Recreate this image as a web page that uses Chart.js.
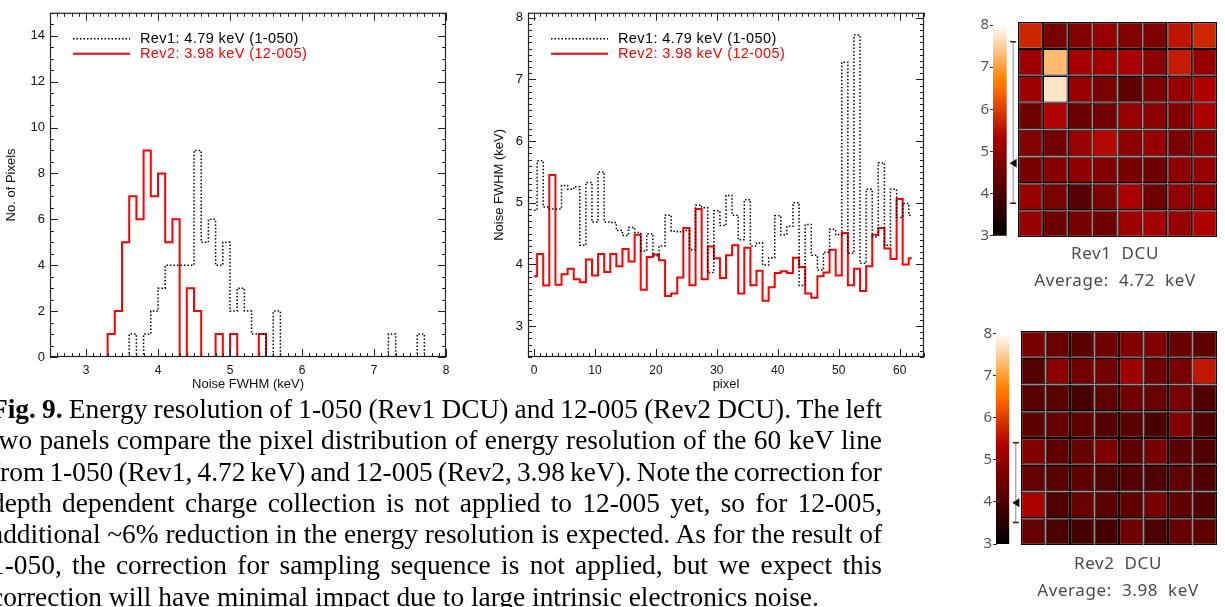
<!DOCTYPE html>
<html>
<head>
<meta charset="utf-8">
<script src="https://cdn.jsdelivr.net/npm/chart.js@4.4.1/dist/chart.umd.min.js"></script>
<style>
  body { margin: 0; background: #fff; }
  #page { position: relative; width: 1225px; height: 607px; overflow: hidden; }
  canvas { position: absolute; }
  .dcu { position: absolute; width: 220px; height: 22px; line-height: 22px; text-align: center;
         font-family: "Noto Sans", sans-serif; font-size: 17px; color: #4a4a4a; white-space: pre; letter-spacing: 0.6px; }
  #caption { position: absolute; left: -9px; top: 394px; width: 891px;
             font-family: "Liberation Serif", "Times New Roman", serif; font-size: 27.4px; color: #000; }
  #caption div { height: 31.3px; line-height: 31.3px; text-align: justify; text-align-last: justify; word-spacing: -4px; }
  #caption div.last { text-align-last: left; word-spacing: 0; }
</style>
</head>
<body>
<div id="page">
  <canvas id="hist" width="470" height="396" style="left:0;top:0"></canvas>
  <canvas id="pix" width="475" height="396" style="left:475px;top:0"></canvas>
  <canvas id="cb1" width="60" height="232" style="left:960px;top:15px"></canvas>
  <canvas id="map1" width="199" height="215" style="left:1018px;top:22px"></canvas>
  <canvas id="cb2" width="60" height="232" style="left:963px;top:323px"></canvas>
  <canvas id="map2" width="196" height="214" style="left:1021px;top:331px"></canvas>
  <div class="dcu" style="left:1005px;top:242px">Rev1  DCU</div>
  <div class="dcu" style="left:1005px;top:269px">Average:  4.72  keV</div>
  <div class="dcu" style="left:1008px;top:552px">Rev2  DCU</div>
  <div class="dcu" style="left:1008px;top:579px">Average:  3.98  keV</div>
  <div id="caption">
    <div><b>Fig. 9.</b> Energy resolution of 1-050 (Rev1 DCU) and 12-005 (Rev2 DCU). The left</div>
    <div>two panels compare the pixel distribution of energy resolution of the 60 keV line</div>
    <div>from 1-050 (Rev1, 4.72 keV) and 12-005 (Rev2, 3.98 keV). Note the correction for</div>
    <div>depth dependent charge collection is not applied to 12-005 yet, so for 12-005,</div>
    <div>additional ~6% reduction in the energy resolution is expected. As for the result of</div>
    <div>1-050, the correction for sampling sequence is not applied, but we expect this</div>
    <div class="last">correction will have minimal impact due to large intrinsic electronics noise.</div>
  </div>
</div>
<script>
// histogram of noise FWHM, 0.1 keV bins
const binWidth = 0.1;
const rev1BinStart = 3.5;
const rev1Counts = [0, 1, 0, 1, 2, 3, 4, 4, 4, 4, 9, 5, 6, 4, 5, 2, 3, 2, 1, 1, 0, 2,
  0, 0, 0, 0, 0, 0, 0, 0, 0, 0, 0, 0, 0, 0, 0, 1, 0, 0, 0, 1, 0];
const rev2BinStart = 3.2;
const rev2Counts = [0, 1, 2, 5, 7, 6, 9, 7, 8, 5, 6, 0, 3, 2, 0, 0, 1, 0, 1, 0, 0, 0, 1, 0];

// noise FWHM per pixel (keV)
const rev1Fwhm = [4.88, 5.68, 4.93, 4.90, 4.90, 5.28, 5.22, 5.26, 4.31, 5.33,
  4.69, 5.50, 4.69, 4.68, 4.55, 4.47, 4.60, 4.52, 4.22, 4.50,
  4.14, 4.30, 4.80, 4.54, 4.53, 4.55, 4.24, 4.96, 4.92, 3.87,
  4.87, 4.63, 5.12, 4.80, 4.40, 5.05, 4.30, 4.35, 3.99, 4.11,
  4.79, 4.48, 4.62, 5.00, 3.66, 4.65, 4.15, 3.91, 4.20, 4.57,
  4.48, 7.28, 4.18, 7.72, 4.02, 5.22, 4.45, 5.65, 4.31, 5.22,
  4.76, 4.99, 4.80];
const rev2Fwhm = [3.81, 4.17, 3.66, 5.45, 3.67, 3.84, 3.93, 3.76, 3.71, 4.08,
  3.82, 4.17, 3.88, 4.17, 3.97, 4.25, 4.05, 4.48, 3.59, 4.12,
  4.16, 4.07, 3.49, 3.53, 3.79, 4.59, 3.665, 4.90, 3.76, 4.29,
  4.10, 3.78, 4.15, 4.31, 3.53, 4.27, 3.665, 3.90, 3.41, 3.63,
  3.86, 3.89, 3.86, 4.11, 3.96, 3.53, 3.46, 3.81, 3.87, 4.24,
  3.82, 4.51, 3.665, 3.93, 3.57, 3.97, 4.48, 4.59, 4.26, 4.09,
  5.06, 4.00, 4.10];

const rev1Label = "Rev1: 4.79 keV (1-050)";
const rev2Label = "Rev2: 3.98 keV (12-005)";

// 8x8 DCU maps, top row first (keV)
const mapCols = ["0", "1", "2", "3", "4", "5", "6", "7"];
const rev1Map = [
  [5.75, 4.62, 4.76, 5.03, 4.76, 4.69, 5.57, 5.78],
  [5.17, 7.28, 5.23, 5.23, 5.30, 4.89, 5.64, 5.03],
  [5.17, 7.72, 5.03, 4.62, 4.29, 4.69, 5.03, 5.37],
  [4.49, 5.37, 4.42, 4.56, 5.03, 4.89, 4.76, 5.30],
  [4.76, 4.56, 5.10, 5.44, 4.89, 5.03, 4.69, 4.96],
  [4.62, 4.83, 4.96, 4.76, 4.62, 4.49, 4.89, 5.03],
  [5.03, 4.62, 4.15, 4.69, 5.30, 4.49, 4.96, 5.03],
  [5.03, 4.49, 4.62, 4.49, 5.17, 5.23, 5.03, 5.37]
];
const rev2Map = [
  [4.62, 4.42, 4.22, 4.56, 4.76, 4.76, 4.42, 4.29],
  [4.15, 4.89, 4.56, 4.56, 5.17, 4.49, 4.62, 5.60],
  [4.22, 4.22, 3.95, 4.29, 4.56, 4.42, 4.62, 4.08],
  [4.29, 4.35, 4.29, 4.15, 4.22, 4.01, 4.76, 4.08],
  [4.76, 4.29, 4.35, 4.69, 4.29, 4.62, 4.22, 4.08],
  [4.35, 4.22, 4.29, 4.08, 4.15, 4.08, 4.29, 4.08],
  [5.30, 4.08, 4.42, 4.22, 4.29, 4.62, 4.29, 4.08],
  [4.35, 4.01, 3.95, 3.95, 4.49, 4.01, 4.35, 4.29]
];
// average and range marks on the colour bars
const rev1Avg = 4.72, rev1Range = [3.77, 7.60];
const rev2Avg = 3.98, rev2Range = [3.51, 5.40];
const cbMin = 3, cbMax = 8;

// IDL "red temperature" look
function heatColor(v) {
  const t = Math.max(0, Math.min(1, (v - cbMin) / (cbMax - cbMin))) * 255;
  const r = Math.min(255, t * 255 / 176);
  const g = Math.max(0, Math.min(255, (t - 120) * 255 / 135));
  const b = Math.max(0, Math.min(255, (t - 190) * 255 / 65));
  return `rgb(${Math.round(r)},${Math.round(g)},${Math.round(b)})`;
}

const tickFontX = { family: "Liberation Sans", size: 12 };
const tickFontY = { family: "Liberation Sans", size: 13 };
const titleFont = { family: "Liberation Sans", size: 13 };

// box with IDL style ticks on all four sides
const frameTicks = {
  id: "frameTicks",
  afterDatasetsDraw(chart, args, o) {
    const { ctx, chartArea: a } = chart;
    ctx.save();
    ctx.strokeStyle = "#222";
    ctx.lineWidth = 1.2;
    ctx.strokeRect(a.left + 0.5, a.top + 0.5, a.width - 1, a.height - 1);
    ctx.lineWidth = 1;
    ctx.beginPath();
    const marks = (scale, step, len) => {
      const k0 = Math.ceil(scale.min / step - 1e-6);
      for (let k = k0; k * step <= scale.max + 1e-6; k++) {
        const p = Math.round(scale.getPixelForValue(k * step)) + 0.5;
        if (scale.isHorizontal()) {
          ctx.moveTo(p, a.bottom); ctx.lineTo(p, a.bottom - len);
          ctx.moveTo(p, a.top); ctx.lineTo(p, a.top + len);
        } else {
          ctx.moveTo(a.left, p); ctx.lineTo(a.left + len, p);
          ctx.moveTo(a.right, p); ctx.lineTo(a.right - len, p);
        }
      }
    };
    marks(chart.scales.x, o.xMinor, 4);
    marks(chart.scales.x, o.xMajor, 8);
    marks(chart.scales.y, o.yMinor, 4);
    marks(chart.scales.y, o.yMajor, 8);
    ctx.stroke();
    ctx.restore();
  }
};

// line-sample legend in the upper left of the plot
const lineLegend = {
  id: "lineLegend",
  afterDraw(chart) {
    const { ctx, chartArea: a } = chart;
    ctx.save();
    chart.data.datasets.forEach((ds, i) => {
      const y = a.top + 26 + i * 15;
      ctx.strokeStyle = ds.borderColor;
      ctx.lineWidth = ds.borderWidth;
      ctx.setLineDash(ds.borderDash || []);
      ctx.beginPath();
      ctx.moveTo(a.left + 23, y);
      ctx.lineTo(a.left + 80, y);
      ctx.stroke();
      ctx.fillStyle = ds.borderColor;
      ctx.font = '14.5px "Liberation Sans"';
      ctx.letterSpacing = "0.4px";
      ctx.textBaseline = "middle";
      ctx.fillText(ds.label, a.left + 90, y);
    });
    ctx.restore();
  }
};

function stepSet(label, points, dotted) {
  return {
    label: label,
    data: points,
    borderColor: dotted ? "#000" : "#ff0000",
    borderWidth: dotted ? 1.5 : 2,
    borderDash: dotted ? [1.5, 2] : [],
    stepped: "middle",
    pointRadius: 0,
    fill: false
  };
}

function scaleOpts(min, max, step, fitSize, title, horizontal, titlePad) {
  return {
    type: "linear",
    min: min,
    max: max,
    afterFit: horizontal ? (s) => { s.height = fitSize; } : (s) => { s.width = fitSize; },
    grid: { display: false, drawTicks: false },
    border: { display: false },
    ticks: { stepSize: step, includeBounds: false, padding: horizontal ? 6 : 5, color: "#111",
             font: horizontal ? tickFontX : tickFontY, maxRotation: 0, autoSkip: false },
    title: { display: true, text: title, color: "#111", font: titleFont,
             padding: horizontal ? { top: 0, bottom: titlePad } : { top: titlePad, bottom: 0 } }
  };
}

const histChart = new Chart(document.getElementById("hist"), {
  type: "line",
  data: {
    datasets: [
      stepSet(rev1Label, rev1Counts.map((c, i) => ({ x: rev1BinStart + (i + 0.5) * binWidth, y: c })), true),
      stepSet(rev2Label, rev2Counts.map((c, i) => ({ x: rev2BinStart + (i + 0.5) * binWidth, y: c })), false)
    ]
  },
  options: {
    responsive: false,
    animation: false,
    layout: { padding: { top: 5, right: 24, left: 0, bottom: 0 } },
    plugins: {
      legend: { display: false },
      tooltip: { enabled: false },
      frameTicks: { xMinor: 0.1, xMajor: 1, yMinor: 0.5, yMajor: 2 }
    },
    scales: {
      x: scaleOpts(2.5, 8, 1, 39, "Noise FWHM (keV)", true, 4),
      y: scaleOpts(0, 15, 2, 50, "No. of Pixels", false, 4)
    }
  },
  plugins: [frameTicks, lineLegend]
});

const pixChart = new Chart(document.getElementById("pix"), {
  type: "line",
  data: {
    datasets: [
      stepSet(rev1Label, rev1Fwhm.map((v, i) => ({ x: i, y: v })), true),
      stepSet(rev2Label, rev2Fwhm.map((v, i) => ({ x: i, y: v })), false)
    ]
  },
  options: {
    responsive: false,
    animation: false,
    layout: { padding: { top: 5, right: 26, left: 0, bottom: 0 } },
    plugins: {
      legend: { display: false },
      tooltip: { enabled: false },
      frameTicks: { xMinor: 1, xMajor: 10, yMinor: 0.1, yMajor: 1 }
    },
    scales: {
      x: scaleOpts(-1, 64, 10, 39, "pixel", true, 4),
      y: scaleOpts(2.5, 8.08, 1, 53, "Noise FWHM (keV)", false, 17)
    }
  },
  plugins: [frameTicks, lineLegend]
});

function mapChart(id, grid) {
  return new Chart(document.getElementById(id), {
    type: "bar",
    data: {
      labels: mapCols,
      datasets: grid.map((row) => ({
        data: row.map(() => 1),
        backgroundColor: row.map(heatColor),
        borderColor: "#000",
        borderWidth: 1.2,
        borderSkipped: false,
        inflateAmount: 0,
        barPercentage: 1,
        categoryPercentage: 1
      }))
    },
    options: {
      responsive: false,
      animation: false,
      plugins: { legend: { display: false }, tooltip: { enabled: false } },
      scales: {
        x: { stacked: true, display: false },
        y: { stacked: true, display: false, reverse: true, min: 0, max: grid.length }
      }
    }
  });
}

// error bar (range) and average triangle beside the colour bar
const rangeMark = {
  id: "rangeMark",
  afterDraw(chart, args, o) {
    const { ctx, chartArea: a } = chart;
    const y = chart.scales.y;
    const x = a.right + 6.5;
    const top = y.getPixelForValue(o.hi), bot = y.getPixelForValue(o.lo);
    ctx.save();
    ctx.strokeStyle = "#888";
    ctx.lineWidth = 1;
    ctx.beginPath();
    ctx.moveTo(x, top); ctx.lineTo(x, bot);
    ctx.stroke();
    ctx.strokeStyle = "#222";
    ctx.lineWidth = 1.5;
    ctx.beginPath();
    ctx.moveTo(x - 3, top); ctx.lineTo(x + 3, top);
    ctx.moveTo(x - 3, bot); ctx.lineTo(x + 3, bot);
    ctx.stroke();
    const m = y.getPixelForValue(o.avg);
    ctx.fillStyle = "#111";
    ctx.beginPath();
    ctx.moveTo(a.right + 3, m);
    ctx.lineTo(a.right + 10, m - 4.5);
    ctx.lineTo(a.right + 10, m + 4.5);
    ctx.closePath();
    ctx.fill();
    ctx.restore();
  }
};

function colorBar(id, avg, range, padTop, padBottom, padRight) {
  return new Chart(document.getElementById(id), {
    type: "bar",
    data: {
      labels: [""],
      datasets: [{
        data: [[cbMin, cbMax]],
        backgroundColor: (c) => {
          const chart = c.chart;
          if (!chart.chartArea) return "#800";
          const ys = chart.scales.y;
          const g = chart.ctx.createLinearGradient(0, ys.getPixelForValue(cbMin), 0, ys.getPixelForValue(cbMax));
          for (let i = 0; i <= 40; i++) g.addColorStop(i / 40, heatColor(cbMin + (cbMax - cbMin) * i / 40));
          return g;
        },
        borderWidth: 0,
        barPercentage: 1,
        categoryPercentage: 1
      }]
    },
    options: {
      responsive: false,
      animation: false,
      layout: { padding: { top: padTop, bottom: padBottom, right: padRight, left: 0 } },
      plugins: {
        legend: { display: false },
        tooltip: { enabled: false },
        rangeMark: { avg: avg, lo: range[0], hi: range[1] }
      },
      scales: {
        x: { display: false },
        y: {
          min: cbMin, max: cbMax,
          afterFit: (s) => { s.width = 33; },
          ticks: { stepSize: 1, padding: 1, color: "#555", font: { family: "Noto Sans", size: 15 } },
          grid: { drawOnChartArea: false, tickLength: 3, color: "#333" },
          border: { color: "#333" }
        }
      }
    },
    plugins: [rangeMark]
  });
}

const map1 = mapChart("map1", rev1Map);
const map2 = mapChart("map2", rev2Map);
const bar1 = colorBar("cb1", rev1Avg, rev1Range, 10, 11.3, 13.3);
const bar2 = colorBar("cb2", rev2Avg, rev2Range, 10.3, 11, 13.7);
</script>
</body>
</html>
